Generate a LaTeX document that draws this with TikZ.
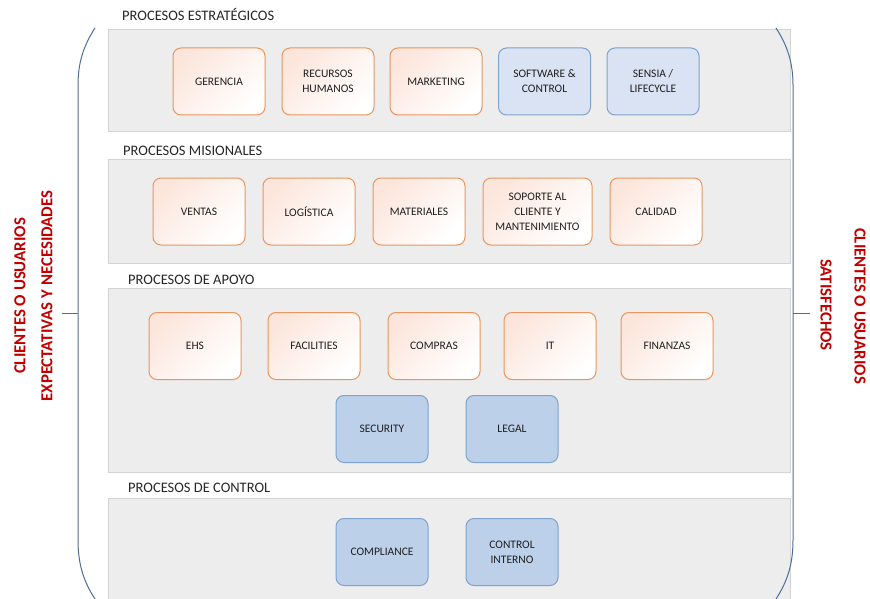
\documentclass[tikz,border=0pt]{standalone}
\usepackage{fontspec}
\setmainfont{Carlito}
\usepackage{xcolor}
\usepackage{tikz}
\usetikzlibrary{positioning}

\definecolor{bandgray}{HTML}{EDEDED}
\definecolor{bandline}{HTML}{D3D3D3}
\definecolor{orangeline}{HTML}{E9955E}
\definecolor{orangefill}{HTML}{FCE6DC}
\definecolor{blueline}{HTML}{7EA3CE}
\definecolor{bluelight}{HTML}{DAE3F3}
\definecolor{bluedark}{HTML}{BDD0EA}
\definecolor{bracketblue}{HTML}{4F6E96}
\definecolor{labelred}{HTML}{C00000}
\definecolor{textgray}{HTML}{1F1F1F}

\begin{document}
\begin{tikzpicture}[x=1pt, y=-1pt,
                	    band/.style = { fill = bandgray, draw = bandline, line width = 0.8pt },
                		proc/.style = { rounded corners = 8pt, draw = orangeline, line width = 1pt, top color = orangefill, middle color = white, bottom color = white, shading angle = 45, text = textgray, minimum width = 92pt, minimum height = 67pt, font = \fontsize{11.5}{15}\selectfont, align = center, inner sep = 2pt },
                		soft/.style = { proc, draw = blueline, fill = bluelight, top color = bluelight, middle color = bluelight, bottom color = bluelight },
                		hard/.style = { proc, draw = blueline, fill = bluedark, top color = bluedark, middle color = bluedark, bottom color = bluedark },
                		title/.style = { anchor = base west, inner sep = 0pt, text = black!85, font = \fontsize{14.5}{16}\selectfont },
                		side/.style = { inner sep = 0pt, text = labelred, font = \bfseries\fontsize{16.8}{18}\selectfont },
                		bracket/.style = { draw = bracketblue, line width = 1pt },
            		]
            		    \useasboundingbox (0,0) rectangle (870,599);
            		    % bands
            		    \draw[band] (108,29) rectangle (790,131);
            		    \draw[band] (108,159) rectangle (790,263);
            		    \draw[band] (108,288) rectangle (790,472);
            		    \draw[band] (108,498) rectangle (790,606);
            		    \node[title] (TitEstr) at (122,21) {PROCESOS ESTRATÉGICOS};
            		    \node[title] (TitMis) at (123,155) {PROCESOS MISIONALES};
            		    \node[title] (TitApoyo) at (128,284) {PROCESOS DE APOYO};
            		    \node[title] (TitControl) at (128,492) {PROCESOS DE CONTROL};
            		    % estrategicos
            		    \node[proc] (Gerencia) at (219,81.5) {GERENCIA};
            		    \node[proc] (Recursos) at (328,81.5) {RECURSOS\\HUMANOS};
            		    \node[proc] (Marketing) at (436,81.5) {MARKETING};
            		    \node[soft] (Software) at (544.5,81.5) {SOFTWARE \&\\CONTROL};
            		    \node[soft] (Sensia) at (653,81.5) {SENSIA /\\LIFECYCLE};
            		    % misionales
            		    \node[proc] (Ventas) at (199,211.5) {VENTAS};
            		    \node[proc] (Logistica) at (309,211.5) {LOGÍSTICA};
            		    \node[proc] (Materiales) at (419,211.5) {MATERIALES};
            		    \node[proc, minimum width = 109pt] (Soporte) at (537.5,211.5) {SOPORTE AL\\CLIENTE Y\\MANTENIMIENTO};
            		    \node[proc] (Calidad) at (656,211.5) {CALIDAD};
            		    % apoyo
            		    \node[proc] (Ehs) at (195,346) {EHS};
            		    \node[proc] (Facilities) at (314,346) {FACILITIES};
            		    \node[proc] (Compras) at (434,346) {COMPRAS};
            		    \node[proc] (It) at (550,346) {IT};
            		    \node[proc] (Finanzas) at (667,346) {FINANZAS};
            		    \node[hard] (Security) at (382,429) {SECURITY};
            		    \node[hard] (Legal) at (512,429) {LEGAL};
            		    % control
            		    \node[hard] (Compliance) at (382,552) {COMPLIANCE};
            		    \node[hard] (Interno) at (512,552) {CONTROL\\INTERNO};
            		    % brackets
            		    \draw[bracket] (95,28) .. controls (84,45) and (78,62) .. (78,85) -- (78,540) .. controls (78,565) and (84,582) .. (95,599);
            		    \draw[bracket] (776,28) .. controls (787,45) and (793,62) .. (793,85) -- (793,540) .. controls (793,565) and (787,582) .. (776,599);
            		    \coordinate (TickIn) at (62,313);
            		    \coordinate (TickOut) at (810,313);
            		    \draw[bracket] (TickIn) -- (78,313);
            		    \draw[bracket] (TickOut) -- (793,313);
            		    \node[side, rotate = 90] (ClientesIn) at (20,296) {CLIENTES O USUARIOS};
            		    \node[side, rotate = 90] (Expectativas) at (47,296) {EXPECTATIVAS Y NECESIDADES};
            		    \node[side, rotate = -90] (Satisfechos) at (826,305) {SATISFECHOS};
            		    \node[side, rotate = -90] (ClientesOut) at (860,306) {CLIENTES O USUARIOS};
            		\end{tikzpicture}
\end{document}
